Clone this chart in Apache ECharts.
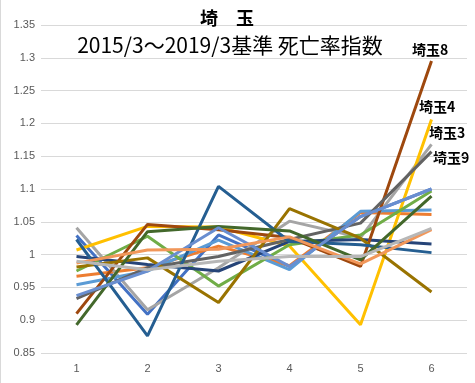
<!DOCTYPE html>
<html><head><meta charset="utf-8">
<script src="https://cdn.jsdelivr.net/npm/echarts@6/dist/echarts.min.js"></script>
<style>html,body{margin:0;padding:0;background:#fff}#c{width:475px;height:383px}</style>
</head><body><div id="c"></div>
<script>
const categories = ['1','2','3','4','5','6'];
const names = ['埼玉1','埼玉2','埼玉3','埼玉4','埼玉5','埼玉6','埼玉7','埼玉8','埼玉9','埼玉10','埼玉11','埼玉12','埼玉13','埼玉14','埼玉15'];
const s1  = [1.029, 0.909, 1.030, 0.982, 1.058, 1.100];
const s2  = [0.967, 0.980, 1.013, 0.983, 1.064, 1.061];
const s3  = [1.041, 0.916, 0.980, 1.051, 1.026, 1.168];
const s4  = [1.007, 1.043, 1.042, 1.013, 0.893, 1.206];
const s5  = [0.954, 0.975, 1.022, 0.977, 1.066, 1.068];
const s6  = [0.975, 1.028, 0.952, 1.015, 1.030, 1.097];
const s7  = [0.997, 0.985, 0.975, 1.020, 1.023, 1.016];
const s8  = [0.910, 1.046, 1.038, 1.026, 0.982, 1.295];
const s9  = [0.933, 0.980, 0.997, 1.023, 1.048, 1.157];
const s10 = [0.981, 0.995, 0.927, 1.070, 1.025, 0.943];
const s11 = [1.023, 0.876, 1.104, 1.020, 1.015, 1.003];
const s12 = [0.893, 1.035, 1.043, 1.036, 0.992, 1.089];
const s13 = [0.9375, 0.975, 1.041, 0.982, 1.058, 1.100];
const s14 = [0.987, 1.007, 1.008, 1.027, 0.986, 1.038];
const s15 = [0.990, 0.977, 0.990, 0.997, 0.997, 1.040];
const seriesValues = [s1,s2,s3,s4,s5,s6,s7,s8,s9,s10,s11,s12,s13,s14,s15];
const colors = ['#4472C4','#ED7D31','#A5A5A5','#FFC000','#5B9BD5','#70AD47','#264478','#9E480E','#636363','#997300','#255E91','#43682B','#698ED0','#F1975A','#B7B7B7'];
const yTicks = {min:0.85, max:1.35, interval:0.05};

const chart = echarts.init(document.getElementById('c'));
chart.setOption({
  animation:false,
  color: colors,
  title:[
    {text:'埼　玉', left:222, top:4, textAlign:'center', textStyle:{fontFamily:'Noto Sans CJK JP', fontSize:18, fontWeight:'bold', color:'#000'}},
    {text:'2015/3～2019/3基準 死亡率指数', left:225, top:30, textAlign:'center', textStyle:{fontFamily:'Noto Sans CJK JP', fontSize:21, fontWeight:'normal', color:'#000'}}
  ],
  grid:{left:41, right:8, top:25, bottom:30},
  xAxis:{type:'category', data:categories, boundaryGap:true,
    axisLine:{show:false}, axisTick:{show:false},
    axisLabel:{color:'#595959', fontSize:11, fontFamily:'Liberation Sans', margin:10}},
  yAxis:{type:'value', min:yTicks.min, max:yTicks.max, interval:yTicks.interval,
    axisLine:{show:false}, axisTick:{show:false},
    splitLine:{lineStyle:{color:'#D9D9D9', width:1}},
    axisLabel:{color:'#595959', fontSize:11, fontFamily:'Liberation Sans', margin:6,
      formatter:v=>String(Math.round(v*100)/100)}},
  series: seriesValues.map((d,i)=>({name:names[i], type:'line', data:d, symbol:'none',
    lineStyle:{width:3, color:colors[i]}, z:2+i})),
  graphic:[
    {type:'text', left:412, top:43, style:{text:'埼玉8', font:'bold 14px "Noto Sans CJK JP"', fill:'#000'}},
    {type:'text', left:419, top:100, style:{text:'埼玉4', font:'bold 14px "Noto Sans CJK JP"', fill:'#000'}},
    {type:'text', left:429, top:126, style:{text:'埼玉3', font:'bold 14px "Noto Sans CJK JP"', fill:'#000'}},
    {type:'text', left:433, top:151, style:{text:'埼玉9', font:'bold 14px "Noto Sans CJK JP"', fill:'#000'}},
    {type:'rect', shape:{x:0, y:0, width:1, height:383}, style:{fill:'#D9D9D9'}}
  ]
});
</script></body></html>
